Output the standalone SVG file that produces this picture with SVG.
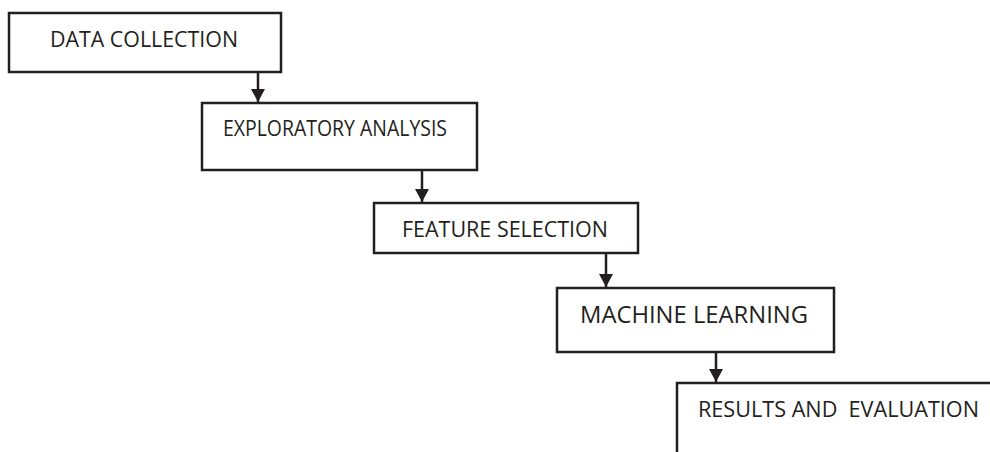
<svg xmlns="http://www.w3.org/2000/svg" width="990" height="452" viewBox="0 0 990 452">
<style>
.box{fill:#fff;stroke:#231f20;stroke-width:2.5}
.lbl{font-family:"Open Sans","Liberation Sans",sans-serif;fill:#231f20;font-size:21px}
.conn{stroke:#231f20;stroke-width:2.5;fill:none}
</style>
<defs>
<marker id="ah" markerUnits="userSpaceOnUse" markerWidth="14" markerHeight="14" viewBox="0 0 14 14" refX="13" refY="7" orient="auto">
<path d="M0,0 L13,7 L0,14 Z" fill="#231f20"/>
</marker>
</defs>
<rect width="990" height="452" fill="#fff"/>
<g id="n1">
<rect class="box" x="9" y="13" width="272" height="59"/>
<text class="lbl" x="50" y="47" textLength="188" lengthAdjust="spacingAndGlyphs">DATA COLLECTION</text>
</g>
<g id="n2">
<rect class="box" x="202" y="103" width="275" height="67"/>
<text class="lbl" x="223" y="136" textLength="224" lengthAdjust="spacingAndGlyphs">EXPLORATORY ANALYSIS</text>
</g>
<g id="n3">
<rect class="box" x="374" y="203" width="264" height="50"/>
<text class="lbl" x="402" y="237" textLength="206" lengthAdjust="spacingAndGlyphs">FEATURE SELECTION</text>
</g>
<g id="n4">
<rect class="box" x="557" y="288" width="277" height="64"/>
<text class="lbl" x="580" y="323" style="font-size:24px" textLength="228" lengthAdjust="spacingAndGlyphs">MACHINE LEARNING</text>
</g>
<g id="n5">
<rect class="box" x="677" y="383" width="340" height="100"/>
<text class="lbl" x="698" y="417" textLength="281" lengthAdjust="spacingAndGlyphs" xml:space="preserve">RESULTS AND  EVALUATION</text>
</g>
<g id="connectors">
<line class="conn" x1="258" y1="72" x2="258" y2="102" marker-end="url(#ah)"/>
<line class="conn" x1="422" y1="170" x2="422" y2="202" marker-end="url(#ah)"/>
<line class="conn" x1="606" y1="253" x2="606" y2="287" marker-end="url(#ah)"/>
<line class="conn" x1="716" y1="352" x2="716" y2="382" marker-end="url(#ah)"/>
</g>
</svg>
